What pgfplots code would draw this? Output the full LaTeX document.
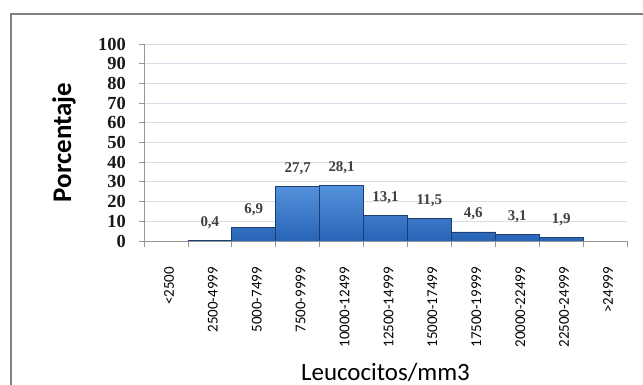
\documentclass[border=0pt]{standalone}
\usepackage{fontspec}
\setmainfont{Carlito}
\newfontfamily\serifnum{Liberation Serif}
\usepackage{pgfplots}
\pgfplotsset{compat=1.18}
\usepackage{pgfplotstable}
\definecolor{barfill}{RGB}{40,100,182}
\definecolor{bartop}{RGB}{84,146,220}
\definecolor{baredge}{RGB}{28,62,115}
\definecolor{gridc}{RGB}{214,222,233}
\definecolor{axisc}{RGB}{150,150,150}
\definecolor{framec}{RGB}{128,128,128}
\pgfplotstableread{
x y lab
1 0.4 {0,4}
2 6.9 {6,9}
3 27.7 {27,7}
4 28.1 {28,1}
5 13.1 {13,1}
6 11.5 {11,5}
7 4.6 {4,6}
8 3.1 {3,1}
9 1.9 {1,9}
}\datatable
\begin{document}
\begin{tikzpicture}
\useasboundingbox (0,0) rectangle (643bp,385bp);
\fill[white] (0,0) rectangle (643bp,385bp);
\draw[framec, line width=2.5bp] (11bp,-5bp) -- (11bp,371bp) -- (650bp,371bp);
\begin{axis}[
  at={(144bp,144bp)}, anchor=south west,
  scale only axis, width=483bp, height=197bp,
  xmin=-0.5, xmax=10.5, ymin=0, ymax=100,
  axis lines*=left,
  axis line style={axisc, line width=0.8bp},
  ytick={0,10,...,100},
  ymajorgrids, grid style={gridc, line width=0.8bp},
  xtick={0,...,10},
  xticklabels={<2500,2500-4999,5000-7499,7500-9999,10000-12499,12500-14999,15000-17499,17500-19999,20000-22499,22500-24999,>24999},
  minor xtick={-0.5,0.5,...,10.5},
  tick align=outside,
  major tick length=5bp, minor tick length=6bp,
  x tick style={draw=none},
  minor x tick style={draw=axisc, line width=0.8bp},
  y tick style={axisc, line width=0.8bp},
  /pgf/number format/assume math mode=true,
  yticklabel style={font=\serifnum\bfseries\fontsize{18.5}{18.5}\selectfont, text=black!90, inner sep=0pt, xshift=-13bp},
  xticklabel style={yshift=-21bp, xshift=3bp, font=\fontsize{15}{15}\selectfont, rotate=90, anchor=east, inner sep=0pt},
  xlabel={Leucocitos/mm3},
  xlabel style={font=\fontsize{25}{25}\selectfont, at={(axis description cs:0.5,-0.7056)}, anchor=base},
  ylabel={Porcentaje},
  ylabel style={font=\bfseries\fontsize{27}{27}\selectfont, at={(axis description cs:-0.1656,0.5)}, anchor=center},
]
\addplot[ybar, bar width=1, bar shift=0pt,
  draw=baredge, line width=0.8bp,
  top color=bartop, bottom color=barfill,
  point meta=explicit symbolic,
  nodes near coords,
  nodes near coords style={font=\serifnum\bfseries\fontsize{15}{15}\selectfont, text=black!75, anchor=base, inner sep=0pt, yshift=14bp},
] table[x=x, y=y, meta=lab] {\datatable};
\end{axis}
\end{tikzpicture}
\end{document}
